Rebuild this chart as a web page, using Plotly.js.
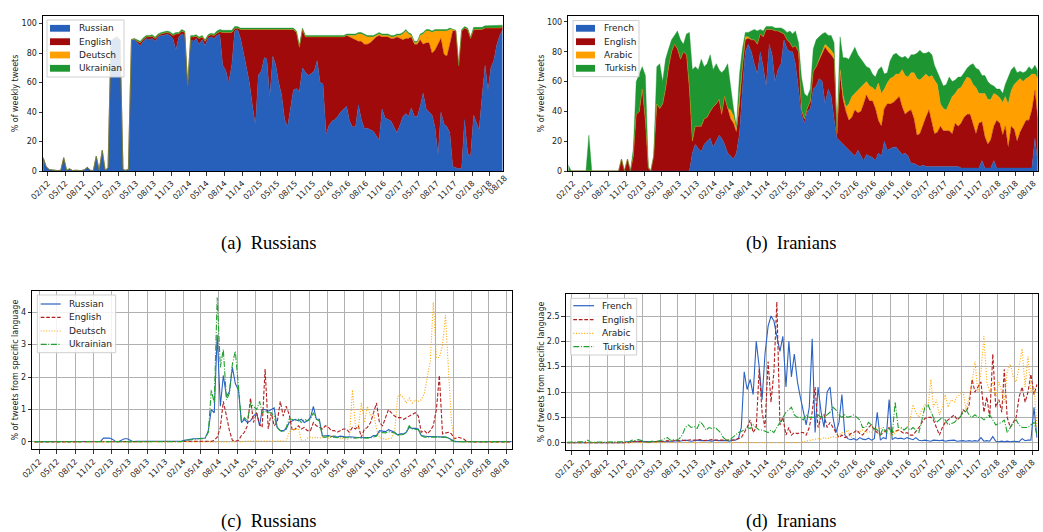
<!DOCTYPE html>
<html>
<head>
<meta charset="utf-8">
<script src="https://cdn.plot.ly/plotly-3.0.1.min.js"></script>
<style>
html,body{margin:0;padding:0;background:#fff;}
#chart{width:1043px;height:532px;}
</style>
</head>
<body>
<div id="chart"></div>
<script>
// ---------- tick labels ----------
const tickDates = ["2012-02-01","2012-05-01","2012-08-01","2012-11-01","2013-02-01","2013-05-01","2013-08-01","2013-11-01",
  "2014-02-01","2014-05-01","2014-08-01","2014-11-01","2015-02-01","2015-05-01","2015-08-01","2015-11-01",
  "2016-02-01","2016-05-01","2016-08-01","2016-11-01","2017-02-01","2017-05-01","2017-08-01","2017-11-01",
  "2018-02-01","2018-05-01","2018-08-01"];
const tickLabels = ["02/12","05/12","08/12","11/12","02/13","05/13","08/13","11/13","02/14","05/14","08/14","11/14",
  "02/15","05/15","08/15","11/15","02/16","05/16","08/16","11/16","02/17","05/17","08/17","11/17","02/18","05/18","08/18"];

// ---------- (a) Russians: % of weekly tweets (stacked) ----------
const aRussian = [
9,3,1,0.5,0.5,0.3,0.5,9,0.5,1.5,
0.3,0.5,0.3,0.3,0.8,2.5,0.5,0.3,10,0.5,
14,0.5,2,88,90,91,89,1,0.5,1,
89,89,87,85,88,90,89,90,88,91,
92,92,93,92,90,82,91,93,92,58,
89,88,90,86,89,85,90,91,90,92,
93,72,68,60,72,95,96,90,80,70,
60,45,31,65,68,77,76,50,78,72,
60,52,35,30,42,55,56,54,70,67,
65,66,68,75,60,59,25,31,34,35,
37,40,42,44,34,30,30,45,35,29,
29,28,27,24,21,42,36,35,34,30,
26,31,37,39,37,43,37,37,44,53,
42,40,38,30,11,40,32,30,26,3,
2,1.5,2,35,12,10,38,33,28,50,
72,55,70,75,86,92,96];
const aEnglish = [
0,0,0,0,0,0,0,0,0,0,
0,0,0,0,0,0,0,0,0,0,
0,0,0,0,0,0,0,0,0,0,
0,0.5,1,2,1.5,1,2,1.5,2,1,
1,1.5,1,1.5,2,11,2,2,2,0,
2,3,1.5,4,2,3,1.5,1.5,2,1.5,
1.5,22,26,34,22,1.5,1,6,16,26,
36,51,65,31,28,19,20,46,18,24,
36,44,61,66,54,41,38,30,26,24,
26,25,23,16,31,32,66,60,57,56,
54,51,49,48,57,60,59,43,53,57,
57,59,62,67,71,49,55,56,56,60,
65,59,52,51,53,48,49,49,45,33,
45,47,42,52,75,50,47,48,60,92,
93,70,93,62,84,80,58,63,68,46,
25,42,27,22,11,5,2];
const aDeutsch = [
0,0,0,0,0,0,0,0,0,0,
0,0,0,0,0,0,0,0,0,0,
0,0,0,0,0,0,0,0,0,0,
0,0,0,0,0,0,0,0,0,0,
0,0,0,0,0,0,0,0,0,0,
0,0,0,0,0,0,0,0,0,0,
0,0,0,0,0,0,0,0,0,0,
0,0,0,0,0,0,0,0,0,0,
0,0,0,0,0,0,0,0,0,0,
0,0,0,0,0,0,0,0,0,0,
0,0,0,0,1,2,3,5,5,6,
5,4,2,1,1,1,1,1,1,1,
1,2,4,5,3,1,1,1,3,7,
8,8,14,13,9,5,16,17,10,1,
0,0,0,0,0,0,0,0,0,0,
0,0,0,0,0,0,0];
const aUkrainian = [
0,0,0,0,0,0,0,0,0,0,
0,0,0,0,0,0,0,0,0,0,
0,0,0,0,0,0,0,0,0,0,
0.5,0.5,1,1,1,1,1,1,1,1,
1,1,1,1,1,1,1,1,1,0,
1,1,1,1,1,1,1,1,1,1.5,
1.5,1.5,1.5,1.5,1.5,1.5,1,1,1,1,
1,1,1,1,1,1,1,1,1,1,
1,1,1,1,1,1,1,1,1,1,
1,1,1,1,1,1,1,1,1,1,
1,1,1,1,1,1,1,1,1,1,
1,1,1,1,1,1,1,1,1,1,
1,1,1,1,1,1,1,1,1,1,
1,1,1,1,1,1,1,1,1,0.5,
0.5,0,1,1,1,1,1.5,1.5,1.5,1.5,
1.5,1.5,1.5,1.5,1.5,1.5,1];

// ---------- (b) Iranians: % of weekly tweets (stacked) ----------
const bFrench = [
0,0,0,0,0,0,0,0,0,0,
0,0,0,0,0,0,0,0,0,0,
0,0,0,0,0,0,0,0,0,0,
0,0,0,0,0,0,0,0,0,0,
0,0,12,18,15,13,18,20,22,16,
20,24,22,18,12,10,8,12,25,55,
80,85,80,72,65,80,70,57,85,78,
60,68,72,88,82,80,80,72,55,38,
32,40,42,55,57,62,60,45,55,50,
35,22,20,18,16,14,12,10,14,10,
7,11,10,9,7,12,10,20,14,15,
16,16,13,11,12,10,5,5,4,3,
4,3,3,3,3,3,3,3,3,3,
3,3,3,2,2,2,2,2,2,2,
7,2,2,2,7,2,2,2,2,2,
2,2,2,2,2,2,2,2,22,4];
const bEnglish = [
0,0,0,0,0,0,0,0,0,0,
0,0,0,0,0,0,0,0,8,0,
8,0,10,38,40,55,34,2,0,10,
45,42,45,55,70,80,85,82,75,80,
78,55,8,12,15,17,17,16,18,27,
25,24,16,32,30,25,24,14,20,15,
8,4,8,16,20,12,20,38,10,17,
34,26,21,4,6,6,3,12,25,3,
3,2,5,12,13,12,18,38,25,28,
40,3,45,30,24,20,24,31,25,30,
38,40,37,38,35,22,20,22,31,30,
30,32,37,32,26,30,36,30,20,22,
27,33,38,30,22,23,27,24,24,24,
22,29,27,30,34,36,36,30,23,30,
26,21,16,19,23,32,30,22,28,14,
28,26,18,24,28,32,32,39,32,30];
const bArabic = [
0,0,0,0,0,0,0,0,0,0,
0,0,0,0,0,0,0,0,0,0,
0,0,0,0,0,0,0,0,0,0,
0,0,0,0,0,0,0,0,0,0,
0,0,0,0,0,0,0,0,0,0,
0,0,0,0,0,6,5,2,5,2,
2,1,0,0,0,0,0,0,0,0,
0,0,0,0,0,0,0,0,0,0,
0,0,0,0,0,1,1,2,3,3,
3,0,3,3,3,11,14,11,15,16,
13,9,10,9,12,25,22,13,14,17,
17,17,15,25,26,23,25,31,38,36,
32,29,22,31,36,32,15,15,14,18,
25,20,25,24,24,25,24,26,31,20,
19,29,30,27,22,17,17,22,20,29,
24,30,40,36,30,28,29,24,11,28];
const bTurkish = [
4,0,0,0,0,0,0,24,0,0,
0,0,0,0,0,0,0,0,0,0,
0,0,5,22,25,15,30,1,0,0,
25,30,15,20,12,8,6,12,13,5,
14,38,48,40,38,45,35,36,38,25,
27,20,28,18,30,14,5,2,15,10,
3,3,6,7,9,3,4,2,2,2,
2,2,3,3,5,8,9,10,6,22,
17,8,8,15,18,15,13,8,8,10,
8,2,22,25,33,30,29,31,24,19,
15,10,12,9,9,9,18,10,7,12,
15,14,12,8,13,12,12,12,17,20,
16,14,17,14,10,8,16,15,17,18,
10,9,8,7,6,6,9,14,13,16,
12,12,12,10,5,4,6,6,8,18,
14,12,6,5,6,5,7,3,6,5];

// ---------- (c) Russians: % of tweets from specific language ----------
const cRussian = [
0.01,0.01,0.01,0.01,0.01,0.01,0.01,0.01,0.01,0.01,
0.01,0.01,0.01,0.01,0.01,0.01,0.01,0.01,0.01,0.01,
0.01,0.01,0.02,0.12,0.13,0.12,0.08,0.01,0.01,0.05,
0.1,0.1,0.05,0.01,0.02,0.02,0.02,0.02,0.02,0.02,
0.02,0.02,0.02,0.02,0.03,0.03,0.03,0.03,0.03,0.03,
0.05,0.07,0.09,0.1,0.1,0.1,0.1,0.12,0.35,1.0,
0.9,3.3,1.1,2.05,1.4,1.55,2.3,1.8,1.6,0.6,
0.7,0.6,0.65,0.8,0.9,0.5,1.0,1.0,0.95,1.0,
1.05,0.45,0.35,0.35,0.4,0.6,0.65,0.7,0.65,0.7,
0.6,0.65,0.75,1.1,0.7,0.7,0.18,0.18,0.2,0.17,
0.18,0.15,0.18,0.17,0.15,0.16,0.15,0.14,0.15,0.13,
0.14,0.15,0.14,0.2,0.2,0.35,0.33,0.32,0.38,0.33,
0.3,0.22,0.25,0.25,0.3,0.45,0.42,0.42,0.4,0.2,
0.18,0.17,0.17,0.17,0.16,0.16,0.16,0.15,0.12,0.06,
0.02,0.01,0.01,0.01,0.01,0.01,0.01,0.01,0.01,0.01,
0.01,0.01,0.01,0.01,0.01,0.01,0.01,0.01,0.01,0.01];
const cEnglish = [
0,0,0,0,0,0,0,0,0,0,
0,0,0,0,0,0,0,0,0,0,
0,0,0,0,0,0,0,0,0,0,
0,0,0,0,0,0,0,0,0,0,
0,0,0,0,0,0,0,0,0,0,
0,0,0,0,0,0,0,0,0,0.02,
0.05,0.15,0.45,1.25,0.8,0.35,0.05,0.02,0.05,0.2,
0.3,0.5,1.35,0.6,0.9,0.55,0.45,2.25,0.4,0.9,
0.5,0.6,1.25,0.8,1.1,0.85,0.35,0.4,0.5,0.4,
0.45,0.35,0.35,0.6,0.5,0.45,0.4,0.5,0.45,0.35,
0.35,0.3,0.35,0.4,0.4,0.3,0.45,0.4,0.5,0.15,
0.4,0.45,0.6,0.9,1.2,0.6,0.5,0.75,1.0,0.9,
0.8,0.75,0.75,0.7,0.75,0.8,0.85,0.9,0.8,0.3,
0.35,0.25,0.35,0.5,1.0,2.05,0.25,0.28,0.3,0.25,
0.1,0.15,0.12,0.1,0.02,0,0,0,0,0,
0,0,0,0,0,0,0,0,0,0];
const cDeutsch = [
0,0,0,0,0,0,0,0,0,0,
0,0,0,0,0,0,0,0,0,0,
0,0,0,0,0,0,0,0,0,0,
0,0,0,0,0,0,0,0,0,0,
0,0,0,0,0,0,0,0,0,0,
0,0,0,0,0,0,0,0,0,0,
0,0,0,0,0,0,0,0,0,0,
0.03,0.03,0.03,0.03,0.03,0.03,0.03,0.03,0.03,0.03,
0.03,0.03,0.03,0.03,0.03,0.3,0.4,0.38,0.42,0.05,
0.02,0.12,0.15,0.12,0.15,0.12,0.15,0.15,0.12,0.18,
0.2,0.15,0.1,0.12,0.08,0.1,1.6,0.5,0.4,1.2,
0.6,1.1,0.8,0.9,0.4,0.15,0.1,0.08,0.1,0.12,
0.3,1.4,1.45,1.35,1.2,1.35,1.2,1.3,1.25,1.3,
1.5,2.0,2.5,4.3,2.6,2.6,3.0,3.9,2.2,0.6,
0.05,0,0,0,0,0,0,0,0,0,
0,0,0,0,0,0,0,0,0,0];
const cUkrainian = [
0.01,0.01,0.01,0.01,0.01,0.01,0.01,0.01,0.01,0.01,
0.01,0.01,0.01,0.01,0.01,0.01,0.01,0.01,0.01,0.01,
0.01,0.01,0.01,0.01,0.01,0.01,0.01,0.01,0.01,0.01,
0.01,0.01,0.01,0.01,0.01,0.01,0.01,0.01,0.01,0.01,
0.01,0.01,0.01,0.01,0.01,0.01,0.01,0.01,0.01,0.01,
0.05,0.06,0.08,0.1,0.1,0.1,0.1,0.12,0.3,1.6,
1.2,4.45,2.3,2.85,1.3,1.5,2.4,2.8,1.7,0.6,
0.75,0.65,1.2,1.1,1.0,1.25,0.9,0.95,0.9,0.9,
0.8,0.45,0.35,0.3,0.45,0.7,0.7,0.65,0.7,0.6,
0.7,0.65,0.7,0.9,0.7,0.65,0.15,0.15,0.17,0.14,
0.15,0.13,0.15,0.14,0.13,0.14,0.13,0.12,0.13,0.12,
0.13,0.12,0.13,0.15,0.18,0.3,0.3,0.28,0.32,0.3,
0.28,0.2,0.22,0.24,0.3,0.5,0.4,0.4,0.38,0.2,
0.15,0.15,0.15,0.15,0.15,0.15,0.15,0.15,0.12,0.05,
0.01,0.01,0.01,0.01,0.01,0.01,0.01,0.01,0.01,0.01,
0.01,0.01,0.01,0.01,0.01,0.01,0.01,0.01,0.01,0.01];

// ---------- (d) Iranians: % of tweets from specific language ----------
const dFrench = [
0,0,0,0,0,0,0,0,0,0,
0,0,0,0,0,0,0,0,0,0,
0.02,0.02,0.02,0.02,0.02,0.02,0.02,0.02,0.02,0.02,
0.02,0.02,0.02,0.02,0.02,0.02,0.03,0.04,0.03,0.04,
0.05,0.04,0.03,0.04,0.05,0.04,0.04,0.05,0.04,0.03,
0.05,0.04,0.04,0.05,0.04,0.03,0.05,0.05,0.08,0.3,
1.4,1.05,1.25,0.95,2.0,1.5,0.85,1.75,2.3,2.5,
2.4,2.1,1.8,2.1,1.1,2.0,1.3,1.75,1.2,0.9,
0.6,0.35,0.7,2.05,0.2,1.1,0.6,0.3,1.0,1.1,
0.5,0.2,0.4,0.95,0.15,0.08,0.06,0.08,0.05,0.1,
0.07,0.06,0.09,0.05,0.08,0.6,0.05,0.1,0.08,0.85,
0.06,0.1,0.08,0.09,0.07,0.1,0.08,0.06,0.1,0.05,
0.04,0.05,0.04,0.03,0.05,0.04,0.04,0.05,0.03,0.04,
0.04,0.05,0.03,0.04,0.04,0.03,0.04,0.03,0.04,0.03,
0.1,0.03,0.04,0.03,0.12,0.03,0.02,0.03,0.02,0.03,
0.02,0.03,0.03,0.02,0.08,0.04,0.05,0.05,0.7,0.1];
const dEnglish = [
0,0,0,0,0,0,0,0,0,0,
0,0,0,0,0,0,0,0,0,0,
0,0,0.02,0.03,0.02,0.03,0.02,0.01,0.01,0.02,
0.02,0.03,0.02,0.03,0.04,0.03,0.04,0.05,0.04,0.05,
0.04,0.05,0.06,0.05,0.05,0.06,0.04,0.05,0.05,0.06,
0.05,0.05,0.04,0.05,0.04,0.05,0.05,0.06,0.08,0.1,
0.2,0.3,0.45,0.2,0.3,1.45,0.6,0.3,1.6,0.8,
1.4,2.78,0.35,0.5,0.15,0.3,0.15,0.2,0.18,0.2,
0.2,0.15,0.3,0.6,1.1,0.3,0.5,0.55,0.3,0.4,
0.3,0.2,0.1,0.15,0.1,0.12,0.18,0.2,0.25,0.18,
0.15,0.22,0.3,0.35,0.25,0.2,0.15,0.2,0.25,0.3,
0.2,0.22,0.25,0.22,0.18,0.2,0.15,0.15,0.22,0.3,
0.4,0.48,0.5,0.5,0.45,0.3,0.15,0.3,0.4,0.45,
0.5,0.55,0.45,0.5,0.65,0.6,0.75,1.25,1.0,1.1,
1.2,0.6,0.9,0.5,1.75,0.7,0.85,0.6,1.45,0.5,
0.3,0.4,0.5,0.9,1.1,0.8,1.0,1.35,0.95,1.15];
const dArabic = [
0,0,0,0,0,0,0,0,0,0,
0,0,0,0,0,0,0,0,0,0,
0,0,0,0,0,0,0,0,0,0,
0,0,0,0,0,0,0,0,0,0,
0,0,0,0,0,0,0,0,0,0,
0,0,0,0,0,0,0,0,0,0,
0,0,0,0,0,0,0,0,0,0,
0,0,0,0,0,0,0,0,0,0,
0.02,0.03,0.05,0.05,0.06,0.08,0.07,0.1,0.08,0.1,
0.12,0.1,0.15,0.2,0.18,0.25,0.1,0.15,0.2,0.22,
0.25,0.2,0.22,0.2,0.25,0.28,0.3,0.25,0.2,0.18,
0.15,0.2,0.25,0.28,0.25,0.3,0.45,0.75,0.6,0.5,
0.65,0.75,0.7,1.25,0.7,0.85,0.55,0.7,0.95,0.7,
0.85,0.8,0.9,0.95,1.0,0.65,0.9,1.2,1.6,1.0,
1.4,2.1,1.2,1.0,1.2,0.9,1.2,1.0,0.8,1.4,
1.55,1.3,1.2,1.5,1.85,1.1,1.7,1.0,1.1,0.3];
const dTurkish = [
0.01,0.01,0.01,0.01,0.01,0.01,0.02,0.05,0.01,0.01,
0.01,0.01,0.01,0.01,0.01,0.01,0.01,0.01,0.01,0.01,
0.02,0.02,0.05,0.04,0.06,0.05,0.03,0.01,0.02,0.03,
0.02,0.03,0.05,0.08,0.1,0.05,0.06,0.05,0.08,0.15,
0.3,0.35,0.3,0.32,0.28,0.42,0.35,0.25,0.3,0.28,
0.3,0.25,0.2,0.1,0.05,0.05,0.1,0.15,0.2,0.22,
0.25,0.3,0.28,0.35,0.3,0.25,0.25,0.22,0.2,0.25,
0.2,0.3,0.4,0.5,0.6,0.65,0.7,0.55,0.5,0.5,
0.45,0.55,0.5,0.5,0.5,0.55,0.5,0.5,0.55,0.6,
0.7,0.65,0.55,0.5,0.55,0.5,0.52,0.55,0.5,0.45,
0.3,0.3,0.4,0.35,0.28,0.25,0.15,0.3,0.2,0.3,
0.15,0.8,0.3,0.3,0.25,0.3,0.25,0.3,0.25,0.2,
0.45,0.7,0.75,0.6,0.5,0.4,0.45,0.5,0.45,0.35,
0.38,0.4,0.45,0.5,0.6,0.65,0.55,0.5,0.55,0.5,
0.5,0.45,0.5,0.55,0.45,0.35,0.38,0.4,0.45,0.2,
0.3,0.4,0.45,0.35,0.3,0.3,0.3,0.35,0.4,0.15];

// ---------- semi-monthly sample dates (8th and 23rd of each month from Jan 2012) ----------
function sampleDates(n){
  const out=[];
  for(let i=0;i<n;i++){
    const mi=Math.floor(i/2);
    const y=2012+Math.floor(mi/12), mo=(mi%12)+1;
    out.push(y+'-'+String(mo).padStart(2,'0')+'-'+(i%2===0?'08':'23'));
  }
  return out;
}
const datesA = sampleDates(aRussian.length);
const datesB = sampleDates(bFrench.length);
const datesC = sampleDates(cRussian.length);
const datesD = sampleDates(dFrench.length);

const BLUE='#2660ba', RED='#a00a0a', ORANGE='#ffa000', GREEN='#1e9632';
const LBLUE='#2a62c4', LRED='#b21e1e', LORANGE='#ffa500', LGREEN='#22a02f';
const DASHES={solid:'solid',dash:'3.7px,1.8px',dot:'1px,1.7px',dashdot:'6px,1.6px,1px,1.6px'};

function area(x,y,name,color,xa,ya){
  return {x:x,y:y,name:name,type:'scatter',mode:'lines',stackgroup:'s'+xa,
    line:{width:0.4,color:color},fillcolor:color,xaxis:xa,yaxis:ya,hoverinfo:'skip',showlegend:false};
}
function lineTr(x,y,name,color,dash,xa,ya){
  return {x:x,y:y,name:name,type:'scatter',mode:'lines',
    line:{width:1.1,color:color,dash:DASHES[dash]},xaxis:xa,yaxis:ya,hoverinfo:'skip',showlegend:false};
}

const traces=[
  area(datesA,aRussian,'Russian',BLUE,'x','y'),
  area(datesA,aEnglish,'English',RED,'x','y'),
  area(datesA,aDeutsch,'Deutsch',ORANGE,'x','y'),
  area(datesA,aUkrainian,'Ukrainian',GREEN,'x','y'),
  area(datesB,bFrench,'French',BLUE,'x2','y2'),
  area(datesB,bEnglish,'English',RED,'x2','y2'),
  area(datesB,bArabic,'Arabic',ORANGE,'x2','y2'),
  area(datesB,bTurkish,'Turkish',GREEN,'x2','y2'),
  lineTr(datesC,cRussian,'Russian',LBLUE,'solid','x3','y3'),
  lineTr(datesC,cEnglish,'English',LRED,'dash','x3','y3'),
  lineTr(datesC,cDeutsch,'Deutsch',LORANGE,'dot','x3','y3'),
  lineTr(datesC,cUkrainian,'Ukrainian',LGREEN,'dashdot','x3','y3'),
  lineTr(datesD,dFrench,'French',LBLUE,'solid','x4','y4'),
  lineTr(datesD,dEnglish,'English',LRED,'dash','x4','y4'),
  lineTr(datesD,dArabic,'Arabic',LORANGE,'dot','x4','y4'),
  lineTr(datesD,dTurkish,'Turkish',LGREEN,'dashdot','x4','y4')
];

const W=1043,H=532;
const px=v=>v/W, py=v=>1-v/H;
const tickFont={family:'DejaVu Sans',size:8,color:'#222'};
function xAx(domain,range,anchor,grid){
  return {domain:domain,range:range,type:'date',anchor:anchor,tickmode:'array',tickvals:tickDates,ticktext:tickLabels,
    tickangle:-45,tickfont:tickFont,ticks:'outside',ticklen:3.5,tickwidth:0.8,tickcolor:'#000',
    showline:true,mirror:true,linecolor:'#000',linewidth:1,showgrid:grid,gridcolor:'#b0b0b0',gridwidth:1,
    zeroline:false,automargin:false,fixedrange:true};
}
function yAx(domain,range,anchor,grid,title,tv,tt){
  return {domain:domain,range:range,anchor:anchor,tickmode:'array',tickvals:tv,ticktext:tt,
    tickfont:tickFont,ticks:'outside',ticklen:3.5,tickwidth:0.8,tickcolor:'#000',
    showline:true,mirror:true,linecolor:'#000',linewidth:1,showgrid:grid,gridcolor:'#b0b0b0',gridwidth:1,
    zeroline:false,automargin:false,fixedrange:true,
    title:{text:title,font:{family:'DejaVu Sans',size:8,color:'#222'},standoff:1}};
}

// ---------- legends (drawn as boxes with swatches, matplotlib-like compact spacing) ----------
const shapes=[], annos=[];
function legendBox(box,rows,swatch,textX,traceList,kind){
  shapes.push({type:'rect',xref:'paper',yref:'paper',x0:px(box[0]),x1:px(box[2]),y0:py(box[3]),y1:py(box[1]),
    line:{color:'#cfcfcf',width:1},fillcolor:'rgba(255,255,255,0.85)',layer:'above'});
  traceList.forEach((t,k)=>{
    const yc=rows[k];
    if(kind==='area'){
      shapes.push({type:'rect',xref:'paper',yref:'paper',x0:px(swatch[0]),x1:px(swatch[1]),y0:py(yc+3.4),y1:py(yc-3.4),
        line:{width:0},fillcolor:t.fillcolor,layer:'above'});
    } else {
      shapes.push({type:'line',xref:'paper',yref:'paper',x0:px(swatch[0]),x1:px(swatch[1]),y0:py(yc),y1:py(yc),
        line:{color:t.line.color,width:1.2,dash:t.line.dash},layer:'above'});
    }
    annos.push({text:t.name,xref:'paper',yref:'paper',x:px(textX),y:py(yc),xanchor:'left',yanchor:'middle',
      showarrow:false,font:{family:'DejaVu Sans',size:9,color:'#222'}});
  });
}
legendBox([47,20,124,77],[28.3,41.7,55,68.3],[50,70],76.5,traces.slice(0,4),'area');
legendBox([573,20.5,639,76.7],[28.3,41.7,55,68.3],[576,595],601.5,traces.slice(4,8),'area');
legendBox([37.3,295,115.7,352.7],[304,317.3,331,344.3],[40.7,60.7],67,traces.slice(8,12),'line');
legendBox([570.7,298.3,636.7,355],[305.7,319.7,333.3,346.7],[573.3,594],599.5,traces.slice(12,16),'line');

function cap(text,x,y){
  return {text:text,x:x,y:y,xref:'paper',yref:'paper',xanchor:'center',yanchor:'middle',showarrow:false,
    font:{family:'Liberation Serif',size:18.5,color:'#000'}};
}
annos.push(cap('(a)  Russians',px(269),py(243)));
annos.push(cap('(b)  Iranians',px(791),py(243)));
annos.push(cap('(c)  Russians',px(269),py(521)));
annos.push(cap('(d)  Iranians',px(791),py(521)));
annos.push({text:'08/18',x:px(497),y:py(185),xref:'paper',yref:'paper',xanchor:'center',yanchor:'middle',showarrow:false,
  textangle:-45,font:tickFont});

const layout={
  width:W,height:H,margin:{l:0,r:0,t:0,b:0},paper_bgcolor:'#fff',plot_bgcolor:'#fff',
  showlegend:false,
  xaxis:xAx([px(43),px(502.7)],['2012-01-07','2018-07-08'],'y',false),
  yaxis:yAx([py(171),py(16)],[0,105.2],'x',false,'% of weekly tweets',[0,20,40,60,80,100],['0','20','40','60','80','100']),
  xaxis2:xAx([px(568.3),px(1037.7)],['2012-01-08','2018-08-22'],'y2',false),
  yaxis2:yAx([py(171),py(16)],[0,104],'x2',false,'% of weekly tweets',[0,20,40,60,80,100],['0','20','40','60','80','100']),
  xaxis3:xAx([px(32.3),px(512.3)],['2011-12-28','2018-08-28'],'y3',true),
  yaxis3:yAx([py(449.3),py(291)],[-0.225,4.65],'x3',true,'% of tweets from specific language',[0,1,2,3,4],['0','1','2','3','4']),
  xaxis4:xAx([px(565.7),px(1037.7)],['2012-01-01','2018-08-27'],'y4',true),
  yaxis4:yAx([py(450),py(294)],[-0.144,2.934],'x4',true,'% of tweets from specific language',[0,0.5,1,1.5,2,2.5],['0.0','0.5','1.0','1.5','2.0','2.5']),
  shapes:shapes,
  annotations:annos
};

Plotly.newPlot('chart',traces,layout,{staticPlot:true,displayModeBar:false});
</script>
</body>
</html>
